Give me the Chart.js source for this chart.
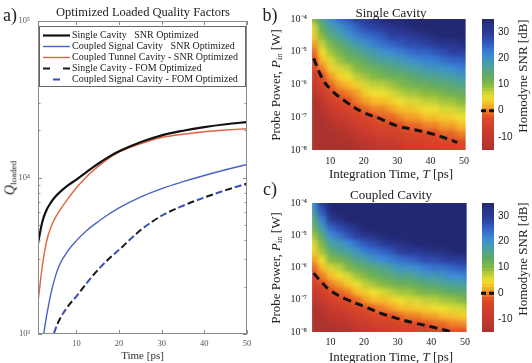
<!DOCTYPE html>
<html>
<head>
<meta charset="utf-8">
<script src="https://cdn.jsdelivr.net/npm/chart.js@4.4.1/dist/chart.umd.min.js"></script>
<style>
  body { margin: 0; background: #fff; width: 532px; height: 363px; position: relative; overflow: hidden;
         font-family: "Liberation Serif", serif; color: #222; }
  canvas { position: absolute; }
  canvas.soft { filter: blur(2.6px); }
  canvas.cbar { background: #fff; }
  .t { position: absolute; white-space: nowrap; line-height: 1; transform: translate(-50%, -50%); }
  .r { transform: translate(-50%, -50%) rotate(-90deg); }
  sub { font-size: 65%; vertical-align: -0.25em; }
</style>
</head>
<body>
<canvas id="qf" style="left:0;top:0" width="262" height="363"></canvas>
<canvas id="cellsB" class="soft" style="left:262px;top:0" width="212" height="180"></canvas>
<canvas id="heatB" style="left:262px;top:0" width="212" height="180"></canvas>
<canvas id="barB" class="cbar" style="left:474px;top:0" width="58" height="180"></canvas>
<canvas id="cellsC" class="soft" style="left:262px;top:184px" width="212" height="179"></canvas>
<canvas id="heatC" style="left:262px;top:184px" width="212" height="179"></canvas>
<canvas id="barC" class="cbar" style="left:474px;top:184px" width="58" height="179"></canvas>

<div class="t" style="left:10px;top:15px;font-size:18px">a)</div>
<div class="t" style="left:143px;top:12px;font-size:12.5px">Optimized Loaded Quality Factors</div>
<div class="t r" style="left:11px;top:178px;font-size:14px"><i>Q</i><sub>loaded</sub></div>

<div class="t" style="left:270px;top:15px;font-size:18px">b)</div>
<div class="t" style="left:391px;top:12px;font-size:13px">Single Cavity</div>
<div class="t r" style="left:276px;top:85px;font-size:13px">Probe Power, <i>P</i><sub>in</sub> [W]</div>
<div class="t" style="left:391px;top:173px;font-size:13px">Integration Time, <i>T</i> [ps]</div>
<div class="t r" style="left:522px;top:76px;font-size:13px">Homodyne SNR [dB]</div>

<div class="t" style="left:270px;top:189px;font-size:18px">c)</div>
<div class="t" style="left:391px;top:194px;font-size:13px">Coupled Cavity</div>
<div class="t r" style="left:276px;top:268px;font-size:13px">Probe Power, <i>P</i><sub>in</sub> [W]</div>
<div class="t" style="left:391px;top:356px;font-size:13px">Integration Time, <i>T</i> [ps]</div>
<div class="t r" style="left:522px;top:259px;font-size:13px">Homodyne SNR [dB]</div>

<script>
// ---- panel a: optimized loaded Q vs time ----
const timePs = [1, 2, 3, 4, 5, 6, 8, 10, 12.5, 15, 17.5, 20, 25, 30, 35, 40, 45, 50];
const qSingleSnr  = [3800, 5200, 6200, 6900, 7500, 8000, 8900, 9700, 10900, 12200, 13500, 14700, 16800, 18600, 19900, 21000, 21900, 22600];
const qSignalSnr  = [null, 870, 1300, 1800, 2300, 2750, 3400, 3950, 4600, 5200, 5800, 6400, 7500, 8500, 9400, 10300, 11200, 12100];
const qTunnelSnr  = [1600, 2700, 3900, 4800, 5500, 6100, 7300, 8600, 10200, 11700, 13200, 14500, 16400, 18000, 18900, 19600, 20100, 20500];
const qSingleFom  = [null, null, null, 880, 1060, 1230, 1500, 1740, 2130, 2560, 3000, 3450, 4600, 5700, 6600, 7450, 8300, 9150];
const qSignalFom  = [null, null, null, 880, 1060, 1230, 1500, 1740, 2130, 2560, 3000, 3450, 4600, 5700, 6600, 7450, 8300, 9150];
const timeTicks = [10, 20, 30, 40, 50];

// ---- panels b, c: homodyne SNR maps ----
const timeCols = [5, 7.5, 10, 12.5, 15, 17.5, 20, 22.5, 25, 27.5, 30, 32.5, 35, 37.5, 40, 42.5, 45, 47.5, 50];
const powerRows = [-8, -7.75, -7.5, -7.25, -7, -6.75, -6.5, -6.25, -6, -5.75, -5.5, -5.25, -5, -4.75, -4.5, -4.25, -4]; // log10 W
const powerTicks = [1e-8, 1e-7, 1e-6, 1e-5, 1e-4];
const integTicks = [10, 20, 30, 40, 50];
const snrLevels = [-10, -9, -8, -7, -6, -5, -4, -3, -2, -1, 0, 1, 2, 3, 4, 5, 6, 7, 8, 9,
                   10, 11, 12, 13, 14, 15, 16, 17, 18, 19, 20, 21, 22, 23, 24, 25, 26, 27, 28, 29];

// rows follow powerRows (bottom to top), columns follow timeCols
const snrSingle = [
  [-10,-10,-10,-10,-10,-10,-9,-8,-7,-7,-6,-5,-5,-4,-4,-3,-3,-2,-2],
  [-10,-10,-10,-10,-10,-8,-7,-6,-5,-5,-4,-3,-3,-2,-2,-1,-1,0,0],
  [-10,-10,-10,-9,-8,-6,-5,-4,-3,-3,-2,-1,-1,0,0,1,1,2,2],
  [-10,-10,-9,-7,-6,-4,-3,-2,-1,-1,0,1,1,2,2,3,3,4,4],
  [-10,-10,-7,-5,-4,-2,-1,0,1,1,2,3,3,4,4,5,5,6,6],
  [-10,-8,-5,-3,-2,0,1,2,2,3,4,4,5,6,6,7,7,8,8],
  [-10,-6,-3,-1,0,2,3,4,4,5,6,7,7,8,8,9,9,10,11],
  [-8,-4,-1,1,2,3,5,6,6,7,8,9,9,10,10,11,12,12,13],
  [-6,-2,1,3,4,5,7,8,8,9,10,11,12,12,13,13,14,15,15],
  [-4,0,3,5,6,8,9,10,11,12,12,13,14,15,15,16,16,17,18],
  [-2,2,5,7,8,10,11,12,13,14,15,16,16,17,18,18,19,20,20],
  [0,4,7,9,11,12,13,15,16,16,17,18,19,20,20,21,22,22,23],
  [1,6,9,11,13,14,16,17,18,19,20,21,22,22,23,24,25,25,26],
  [3,8,11,13,15,17,18,20,21,22,23,24,24,25,26,27,27,28,29],
  [5,10,14,16,18,20,21,22,23,25,25,26,27,28,29,30,30,30,30],
  [7,13,16,18,20,22,24,25,26,27,28,29,30,30,30,30,30,30,30],
  [10,15,19,21,23,25,26,28,29,30,30,30,30,30,30,30,30,30,30]
];
const snrCoupled = [
  [-10,-10,-10,-10,-9,-8,-7,-6,-5,-4,-3,-3,-2,-2,-1,-1,0,0,0],
  [-10,-10,-9,-8,-7,-5,-4,-3,-3,-2,-1,-1,0,0,1,1,2,2,3],
  [-10,-9,-7,-6,-5,-3,-2,-1,0,0,1,2,2,3,3,4,4,5,5],
  [-10,-7,-5,-4,-2,-1,0,1,2,3,4,4,5,5,6,6,7,7,8],
  [-7,-5,-3,-1,0,1,3,4,4,5,6,7,7,8,8,9,9,10,11],
  [-5,-3,0,1,2,4,5,6,7,8,9,9,10,11,11,12,13,13,14],
  [-3,0,2,3,5,6,8,9,10,11,12,12,13,14,14,15,16,16,17],
  [-1,2,4,6,7,9,10,12,13,14,15,15,16,17,17,18,19,19,20],
  [1,4,7,8,10,12,13,14,15,16,18,18,19,20,21,21,22,23,23],
  [3,6,10,11,13,15,16,18,19,20,21,22,23,24,24,25,26,26,27],
  [5,9,13,15,16,18,20,21,22,23,25,26,26,27,28,28,29,30,30],
  [7,11,16,17,19,21,23,24,26,27,28,29,30,30,30,30,30,30,30],
  [9,14,19,21,23,25,27,28,29,30,30,30,30,30,30,30,30,30,30],
  [12,17,22,24,26,28,30,30,30,30,30,30,30,30,30,30,30,30,30],
  [14,20,26,28,30,30,30,30,30,30,30,30,30,30,30,30,30,30,30],
  [17,23,29,30,30,30,30,30,30,30,30,30,30,30,30,30,30,30,30],
  [19,26,30,30,30,30,30,30,30,30,30,30,30,30,30,30,30,30,30]
];

// 0 dB contour (dashed line)
const contourTimeB  = [5, 7.5, 10, 15, 20, 25, 30, 35, 40, 45, 48];
const contourPowerB = [6.3e-6, 1.6e-6, 7.2e-7, 2.8e-7, 1.38e-7, 8.9e-8, 5.4e-8, 4.2e-8, 3.2e-8, 2.2e-8, 1.7e-8];
const contourTimeC  = [5, 7.5, 10, 15, 20, 25, 30, 35, 40, 46];
const contourPowerC = [6.6e-7, 3.4e-7, 1.9e-7, 1.0e-7, 6.2e-8, 3.8e-8, 2.6e-8, 1.9e-8, 1.45e-8, 1.0e-8];

const SERIF = '"Liberation Serif", serif';
const SANS = '"Liberation Sans", sans-serif';

// reversed-jet style colour map
const cmap = [
  [-10, [172, 50, 45]], [-5, [200, 58, 45]], [0, [222, 72, 40]], [2, [238, 128, 40]],
  [4, [246, 188, 42]], [6, [240, 224, 48]], [8, [190, 208, 58]], [10, [132, 184, 66]],
  [13, [96, 170, 104]], [16, [74, 160, 160]], [19, [60, 140, 214]], [22, [52, 100, 200]],
  [25, [44, 64, 160]], [30, [34, 40, 114]]
];
function snrColor(v) {
  v = Math.max(-10, Math.min(30, v));
  for (let i = 1; i < cmap.length; i++) {
    if (v <= cmap[i][0]) {
      const [a, ca] = cmap[i - 1], [b, cb] = cmap[i];
      const f = (v - a) / (b - a);
      const c = ca.map((x, k) => Math.round(x + (cb[k] - x) * f));
      return `rgb(${c[0]},${c[1]},${c[2]})`;
    }
  }
  return 'rgb(34,40,114)';
}

const SUP = {'-': '⁻', '0': '⁰', '1': '¹', '2': '²', '3': '³', '4': '⁴', '5': '⁵', '6': '⁶', '7': '⁷', '8': '⁸', '9': '⁹'};
function powLabel(v) {
  const e = Math.log10(v);
  if (Math.abs(e - Math.round(e)) > 1e-6) return '';
  return '10' + String(Math.round(e)).split('').map(c => SUP[c]).join('');
}
const pts = (xs, ys) => xs.map((x, i) => ({ x, y: ys[i] })).filter(p => p.y != null);
const noPlugins = { legend: { display: false }, tooltip: { enabled: false } };

// box with inward tick marks (matlab look)
const frameTicks = {
  id: 'frameTicks',
  afterDatasetsDraw(chart) {
    const { ctx, chartArea: a, scales: { x, y } } = chart;
    ctx.save();
    ctx.strokeStyle = '#8c8c8c';
    ctx.lineWidth = 1;
    ctx.setLineDash([]);
    ctx.strokeRect(a.left + 0.5, a.top + 0.5, a.right - a.left - 1, a.bottom - a.top - 1);
    ctx.beginPath();
    x.ticks.forEach(t => {
      const px = Math.round(x.getPixelForValue(t.value)) + 0.5;
      ctx.moveTo(px, a.bottom); ctx.lineTo(px, a.bottom - 4);
      ctx.moveTo(px, a.top); ctx.lineTo(px, a.top + 4);
    });
    y.ticks.forEach(t => {
      const m = t.value / Math.pow(10, Math.floor(Math.log10(t.value) + 1e-9));
      if (Math.abs(m - Math.round(m)) > 1e-6) return;
      const len = Math.abs(m - 1) < 1e-6 ? 4 : 2.5;
      const py = Math.round(y.getPixelForValue(t.value)) + 0.5;
      ctx.moveTo(a.left, py); ctx.lineTo(a.left + len, py);
      ctx.moveTo(a.right, py); ctx.lineTo(a.right - len, py);
    });
    ctx.stroke();
    ctx.restore();
  }
};

// legend drawn inside the plot box
const insideLegend = {
  id: 'insideLegend',
  afterDatasetsDraw(chart) {
    const { ctx, chartArea: a } = chart;
    const bx = a.left + 1, by = a.top + 5, bw = a.right - a.left - 2, bh = 61;
    ctx.save();
    ctx.fillStyle = '#fff';
    ctx.fillRect(bx, by, bw, bh);
    ctx.strokeStyle = '#666';
    ctx.lineWidth = 1;
    ctx.strokeRect(bx + 0.5, by + 0.5, bw - 1, bh - 1);
    ctx.font = '10px ' + SERIF;
    ctx.textBaseline = 'middle';
    chart.data.datasets.forEach((d, i) => {
      const yy = by + 9.5 + i * 11;
      ctx.beginPath();
      ctx.strokeStyle = d.borderColor;
      ctx.lineWidth = d.borderWidth;
      ctx.setLineDash(d.borderDash || []);
      ctx.lineDashOffset = d.borderDashOffset || 0;
      ctx.moveTo(bx + 4, yy); ctx.lineTo(bx + 31, yy);
      ctx.stroke();
      ctx.setLineDash([]);
      ctx.fillStyle = '#222';
      ctx.fillText(d.label, bx + 33, yy);
    });
    ctx.restore();
  }
};

new Chart(document.getElementById('qf'), {
  type: 'line',
  data: {
    datasets: [
      { label: 'Single Cavity   SNR Optimized', data: pts(timePs, qSingleSnr), borderColor: '#111', borderWidth: 2.2 },
      { label: 'Coupled Signal Cavity   SNR Optimized', data: pts(timePs, qSignalSnr), borderColor: '#4a62c6', borderWidth: 1.4 },
      { label: 'Coupled Tunnel Cavity - SNR Optimized', data: pts(timePs, qTunnelSnr), borderColor: '#e0643c', borderWidth: 1.4 },
      { label: 'Single Cavity - FOM Optimized', data: pts(timePs, qSingleFom), borderColor: '#1a1a1a', borderWidth: 2, borderDash: [7, 13] },
      { label: 'Coupled Signal Cavity - FOM Optimized', data: pts(timePs, qSignalFom), borderColor: '#3c50b8', borderWidth: 2, borderDash: [7, 13], borderDashOffset: -10 }
    ]
  },
  options: {
    responsive: false,
    animation: false,
    layout: { padding: { top: 21, right: 15, left: 0, bottom: 0 } },
    elements: { point: { radius: 0 }, line: { cubicInterpolationMode: 'monotone' } },
    plugins: noPlugins,
    scales: {
      x: {
        type: 'linear', min: 1, max: 50,
        afterBuildTicks: s => { s.ticks = timeTicks.map(v => ({ value: v })); },
        afterFit: s => { s.height = 29; },
        grid: { display: false, drawTicks: false },
        border: { display: false },
        ticks: { padding: 5, color: '#555', font: { family: SERIF, size: 8.5 } },
        title: { display: true, text: 'Time [ps]', padding: 0, color: '#333', font: { family: SERIF, size: 11 } }
      },
      y: {
        type: 'logarithmic', min: 1000, max: 100000,
        afterFit: s => { s.width = 38; },
        grid: { display: false, drawTicks: false },
        border: { display: false },
        ticks: { autoSkip: false, padding: 8, color: '#555', font: { family: SERIF, size: 8.5 }, callback: v => powLabel(v) }
      }
    }
  },
  plugins: [frameTicks, insideLegend]
});

function heatCells(grid) {
  const cells = [];
  powerRows.forEach((e, i) => {
    timeCols.forEach((t, j) => {
      cells.push({ x: t, y: [Math.pow(10, e - 0.125), Math.pow(10, e + 0.125)], v: grid[i][j] });
    });
  });
  return cells;
}

// white mask round the plot area of the axes layer
const maskOutside = {
  id: 'maskOutside',
  beforeDraw(chart) {
    const { ctx, chartArea: a, width, height } = chart;
    ctx.save();
    ctx.fillStyle = '#fff';
    ctx.fillRect(0, 0, width, a.top);
    ctx.fillRect(0, a.bottom, width, height - a.bottom);
    ctx.fillRect(0, a.top, a.left, a.bottom - a.top);
    ctx.fillRect(a.right, a.top, width - a.right, a.bottom - a.top);
    ctx.restore();
  }
};

function heatMap(cellsId, axesId, grid, cTime, cPower, xAxisH, tickPad) {
  const xRange = { type: 'linear', min: 4.5, max: 50.5, offset: false };
  const yRange = { type: 'logarithmic', min: 1e-8, max: 1e-4 };
  // colour cells (softened layer underneath)
  new Chart(document.getElementById(cellsId), {
    type: 'bar',
    data: {
      datasets: [{ data: heatCells(grid), backgroundColor: c => snrColor(c.raw.v), borderWidth: 0,
                   barPercentage: 1, categoryPercentage: 1, clip: false }]
    },
    options: {
      responsive: false,
      animation: false,
      layout: { padding: { top: 19, right: 3, left: 50, bottom: xAxisH } },
      plugins: noPlugins,
      scales: { x: { ...xRange, display: false }, y: { ...yRange, display: false } }
    }
  });
  // axes + 0 dB contour on top
  new Chart(document.getElementById(axesId), {
    type: 'line',
    data: {
      datasets: [{ data: pts(cTime, cPower), borderColor: '#111', borderWidth: 3, borderDash: [8, 5],
                   pointRadius: 0, tension: 0.4 }]
    },
    options: {
      responsive: false,
      animation: false,
      layout: { padding: { top: 19, right: 3, left: 0, bottom: 0 } },
      plugins: noPlugins,
      scales: {
        x: {
          ...xRange,
          afterBuildTicks: s => { s.ticks = integTicks.map(v => ({ value: v })); },
          afterFit: s => { s.height = xAxisH; },
          grid: { display: false, drawTicks: false },
          border: { display: false },
          ticks: { padding: tickPad, color: '#222', font: { family: SERIF, size: 10 } }
        },
        y: {
          ...yRange,
          afterBuildTicks: s => { s.ticks = powerTicks.map(v => ({ value: v })); },
          afterFit: s => { s.width = 50; },
          grid: { display: false, drawTicks: false },
          border: { display: false },
          ticks: { padding: 5, color: '#222', font: { family: SERIF, size: 10 }, callback: v => powLabel(v) }
        }
      }
    },
    plugins: [maskOutside]
  });
}

// dashed marker for the 0 dB contour on the colour bar
const zeroMark = {
  id: 'zeroMark',
  afterDatasetsDraw(chart) {
    const { ctx, chartArea: a } = chart;
    const y = chart.scales.y2.getPixelForValue(0);
    ctx.save();
    ctx.strokeStyle = '#111';
    ctx.lineWidth = 3;
    ctx.setLineDash([5, 3]);
    ctx.beginPath();
    ctx.moveTo(a.left - 1, y); ctx.lineTo(a.right + 1, y);
    ctx.stroke();
    ctx.restore();
  }
};

function colorBar(id, padBottom) {
  new Chart(document.getElementById(id), {
    type: 'bar',
    data: {
      labels: snrLevels.map(String),
      datasets: [{ data: snrLevels.map(() => 1), backgroundColor: snrLevels.map(v => snrColor(v + 0.5)),
                   borderWidth: 0, barPercentage: 1, categoryPercentage: 1 }]
    },
    options: {
      indexAxis: 'y',
      responsive: false,
      animation: false,
      layout: { padding: { top: 19, left: 8, right: 0, bottom: padBottom } },
      plugins: noPlugins,
      scales: {
        x: { display: false, min: 0, max: 1 },
        y: { display: false, reverse: true },
        y2: {
          axis: 'y', type: 'linear', position: 'right', min: -10, max: 30,
          afterFit: s => { s.width = 38; },
          grid: { display: false, drawTicks: false },
          border: { display: false },
          ticks: { stepSize: 10, padding: 4, color: '#222', font: { family: SANS, size: 10 } }
        }
      }
    },
    plugins: [zeroMark]
  });
}

heatMap('cellsB', 'heatB', snrSingle, contourTimeB, contourPowerB, 30, 5);
heatMap('cellsC', 'heatC', snrCoupled, contourTimeC, contourPowerC, 31, 4);
colorBar('barB', 30);
colorBar('barC', 31);
</script>
</body>
</html>
